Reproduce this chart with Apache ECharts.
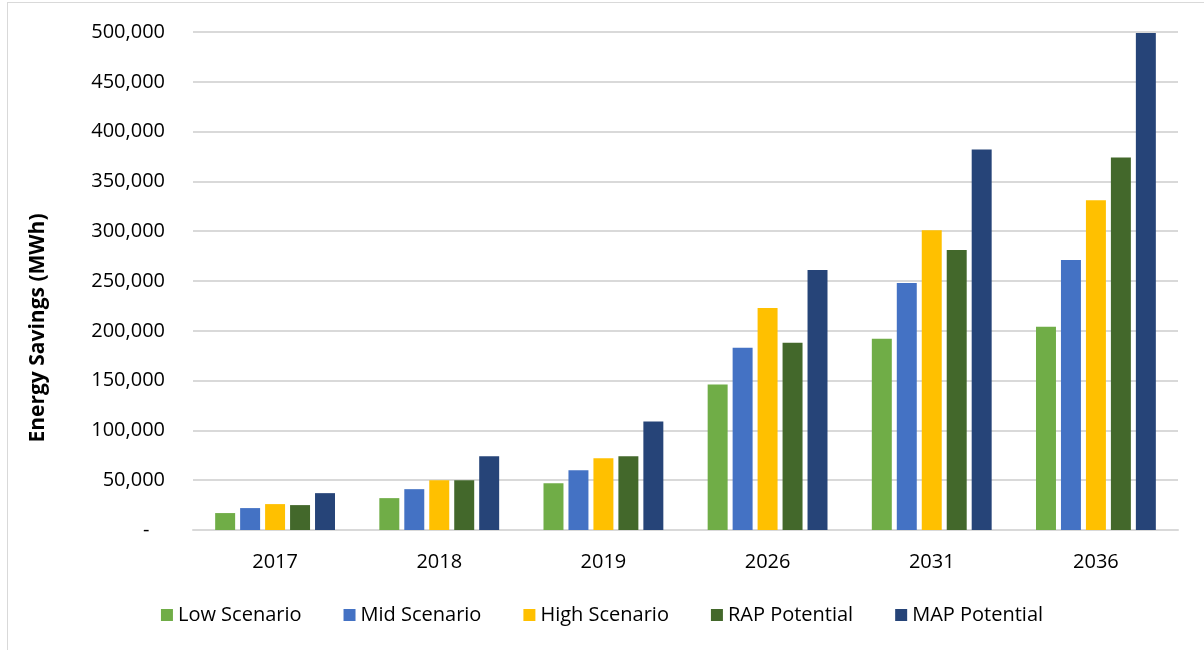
<!DOCTYPE html>
<html>
<head>
<meta charset="utf-8">
<script src="https://cdn.jsdelivr.net/npm/echarts@6/dist/echarts.min.js"></script>
<style>
  html, body { margin: 0; padding: 0; background: #fff; }
  #chart { width: 1204px; height: 650px; }
  #frame { position: absolute; left: 7px; top: 2px; width: 1210px; height: 660px; border: 1px solid #d9d9d9; box-sizing: border-box; pointer-events: none; }
</style>
</head>
<body>
<div id="chart"></div>
<div id="frame"></div>
<script>
// years on the x axis
const years = ['2017', '2018', '2019', '2026', '2031', '2036']

// savings per scenario (MWh)
const lowScenario = [17000, 32000, 47000, 146000, 192000, 204000]
const midScenario = [22000, 41000, 60000, 183000, 248000, 271000]
const highScenario = [26000, 50000, 72000, 223000, 301000, 331000]
const rapPotential = [25000, 50000, 74000, 188000, 281000, 374000]
const mapPotential = [37000, 74000, 109000, 261000, 382000, 499000]

const seriesNames = ['Low Scenario', 'Mid Scenario', 'High Scenario', 'RAP Potential', 'MAP Potential']
const seriesData = [lowScenario, midScenario, highScenario, rapPotential, mapPotential]
const colors = ['#70ad47', '#4472c4', '#ffc000', '#43682b', '#264478']

const font = 'Open Sans'

const chart = echarts.init(document.getElementById('chart'), null, { renderer: 'canvas' })

const option = {
  animation: false,
  color: colors,
  textStyle: { fontFamily: font },
  grid: {
    left: 193,
    right: 26,
    top: 32,
    bottom: 120
  },
  // y axis title, placed by hand so it sits a bit below the plot centre like the original
  graphic: [{
    type: 'text',
    rotation: Math.PI / 2,
    x: 38,
    y: 328,
    style: {
      text: 'Energy Savings (MWh)',
      fontSize: 21,
      fontWeight: 'bold',
      fontFamily: font,
      fill: '#000',
      textAlign: 'center',
      textVerticalAlign: 'middle'
    }
  }],
  legend: {
    bottom: 20,
    left: 'center',
    itemWidth: 12,
    itemHeight: 12,
    itemGap: 42,
    icon: 'rect',
    textStyle: { fontSize: 20, color: '#000', fontFamily: font },
    data: seriesNames
  },
  xAxis: {
    type: 'category',
    data: years,
    axisTick: { show: false },
    axisLine: { lineStyle: { color: '#d9d9d9', width: 2 } },
    axisLabel: { color: '#000', fontSize: 20, margin: 22, fontFamily: font }
  },
  yAxis: {
    type: 'value',
    min: 0,
    max: 500000,
    interval: 50000,
    axisLine: { show: false },
    axisTick: { show: false },
    axisLabel: {
      color: '#000',
      fontSize: 20,
      margin: 28,
      fontFamily: font,
      formatter: function (v) {
        if (v === 0) return '-   '
        return v.toLocaleString('en-US')
      }
    },
    splitLine: { lineStyle: { color: '#d9d9d9', width: 2 } }
  },
  series: seriesNames.map(function (name, i) {
    return {
      name: name,
      type: 'bar',
      data: seriesData[i],
      barGap: '25%',
      barCategoryGap: '27%',
      itemStyle: { color: colors[i] }
    }
  })
}

chart.setOption(option)
</script>
</body>
</html>
